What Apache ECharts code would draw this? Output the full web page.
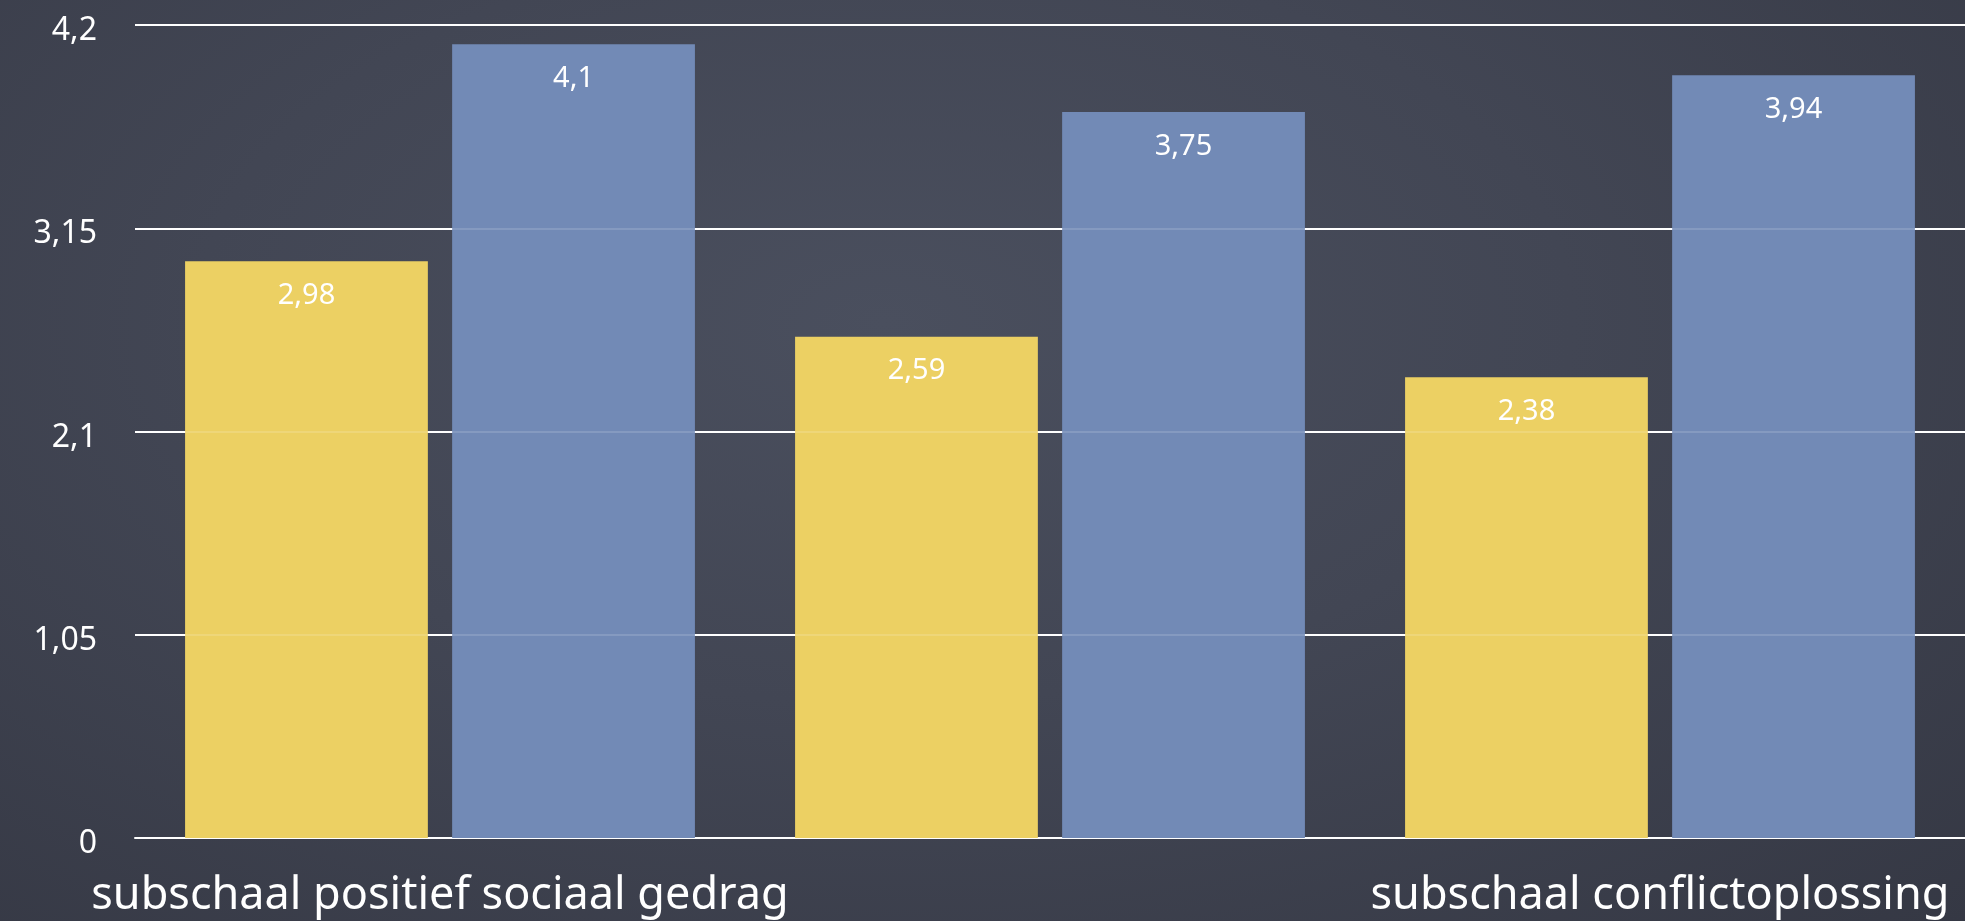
<!DOCTYPE html>
<html>
<head>
<meta charset="utf-8">
<style>
  html, body { margin: 0; padding: 0; width: 100%; height: 100%; overflow: hidden; }
  body { background: radial-gradient(ellipse at 45% 35%, #4a4f5e 0%, #424654 45%, #353844 100%); }
  #chart { width: 1965px; height: 921px; }
</style>
<script src="https://cdn.jsdelivr.net/npm/echarts@6/dist/echarts.min.js"></script>
</head>
<body>
<div id="chart"></div>
<script>
const categories = ['subschaal positief sociaal gedrag', '', 'subschaal conflictoplossing'];
const seriesYellow = [2.98, 2.59, 2.38];
const seriesBlue = [4.1, 3.75, 3.94];
const yTicks = [0, 1.05, 2.1, 3.15, 4.2];

const fmt = v => (Math.round(v * 100) / 100).toString().replace('.', ',');
const fontFamily = '"Noto Sans", "DejaVu Sans", sans-serif';

const chart = echarts.init(document.getElementById('chart'), null, { renderer: 'canvas' });
chart.setOption({
  backgroundColor: 'transparent',
  animation: false,
  grid: { left: 135, right: -4, top: 25, bottom: 83, containLabel: false },
  xAxis: {
    type: 'category',
    data: categories,
    axisLine: { show: true, lineStyle: { color: '#ffffff', width: 2 } },
    axisTick: { show: false },
    axisLabel: {
      interval: 1,
      color: '#ffffff',
      fontFamily: fontFamily,
      fontSize: 45,
      margin: 36
    }
  },
  yAxis: {
    type: 'value',
    min: yTicks[0],
    max: yTicks[yTicks.length - 1],
    interval: yTicks[1] - yTicks[0],
    axisLine: { show: false },
    axisTick: { show: false },
    splitLine: { show: true, lineStyle: { color: '#ffffff', width: 2 } },
    axisLabel: {
      color: '#ffffff',
      fontFamily: fontFamily,
      fontSize: 32,
      margin: 38,
      verticalAlign: 'top',
      lineHeight: 32,
      padding: [-10, 0, 0, 0],
      formatter: v => fmt(v)
    }
  },
  series: [
    {
      name: 'geel',
      type: 'bar',
      data: seriesYellow,
      barWidth: '39.8%',
      barGap: '10%',
      itemStyle: { color: '#ecd063' },
      label: {
        show: true,
        position: 'insideTop',
        distance: 20,
        color: '#ffffff',
        fontFamily: fontFamily,
        fontSize: 29,
        formatter: p => fmt(p.value)
      },
      markLine: {
        silent: true,
        symbol: 'none',
        label: { show: false },
        lineStyle: { color: 'rgba(255,255,255,0.14)', width: 2, type: 'solid' },
        data: yTicks.slice(1, -1).map(t => ({ yAxis: t }))
      }
    },
    {
      name: 'blauw',
      type: 'bar',
      data: seriesBlue,
      barWidth: '39.8%',
      barGap: '10%',
      itemStyle: { color: '#728ab6' },
      label: {
        show: true,
        position: 'insideTop',
        distance: 20,
        color: '#ffffff',
        fontFamily: fontFamily,
        fontSize: 29,
        formatter: p => fmt(p.value)
      }
    }
  ]
});
</script>
</body>
</html>
